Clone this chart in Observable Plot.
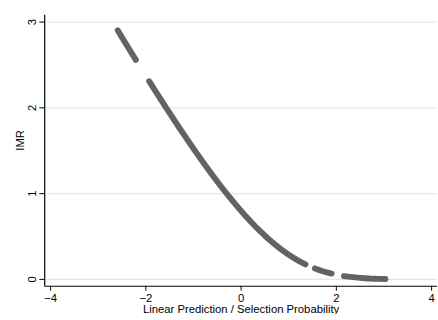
<!DOCTYPE html>
<html>
<head>
<meta charset="utf-8">
<script src="https://cdn.jsdelivr.net/npm/d3@7"></script>
<script src="https://cdn.jsdelivr.net/npm/@observablehq/plot@0.6"></script>
<style>
html, body { margin: 0; padding: 0; background: #fff; overflow: hidden; }
#chart { width: 438px; height: 320px; overflow: hidden; }
</style>
</head>
<body>
<div id="chart"></div>
<script>
// Segments of the scatter (gaps between them are where there are no observations)
const segment = [
  1,1,1,1,1,
  2,2,2,2,2,2,2,2,2,2,2,2,2,2,2,2,2,2,2,2,2,2,2,2,2,2,2,2,2,2,2,2,2,2,2,
  3,3,3,3,3,
  4,4,4,4,4,4,4,4,4,4,4
];
const linearPrediction = [
  -2.59, -2.5, -2.4, -2.3, -2.21,
  -1.93, -1.9, -1.8, -1.7, -1.6, -1.5, -1.4, -1.3, -1.2, -1.1, -1.0, -0.9, -0.8, -0.7, -0.6, -0.5, -0.4, -0.3, -0.2, -0.1,
  0.0, 0.1, 0.2, 0.3, 0.4, 0.5, 0.6, 0.7, 0.8, 0.9, 1.0, 1.1, 1.2, 1.3, 1.35,
  1.55, 1.6, 1.7, 1.8, 1.9,
  2.16, 2.2, 2.3, 2.4, 2.5, 2.6, 2.7, 2.8, 2.9, 3.0, 3.03
];
const imr = [
  2.904, 2.82, 2.73, 2.64, 2.56,
  2.31, 2.285, 2.197, 2.11, 2.024, 1.939, 1.854, 1.77, 1.688, 1.606, 1.525, 1.446, 1.367, 1.29, 1.215, 1.141, 1.069, 0.998, 0.929, 0.863,
  0.798, 0.735, 0.675, 0.617, 0.562, 0.509, 0.459, 0.412, 0.368, 0.326, 0.288, 0.252, 0.219, 0.19, 0.176,
  0.128, 0.117, 0.098, 0.082, 0.068,
  0.039, 0.036, 0.029, 0.023, 0.018, 0.014, 0.01, 0.008, 0.006, 0.004, 0.004
];
const xTicks = [-4, -2, 0, 2, 4];
const yTicks = [0, 1, 2, 3];

const data = linearPrediction.map((x, i) => ({x, y: imr[i], s: segment[i]}));

const chart = Plot.plot({
  width: 446,
  height: 320,
  marginLeft: 45,
  marginRight: 1,
  marginTop: 15,
  marginBottom: 29,
  style: {fontFamily: "'Liberation Sans', Arial, sans-serif", fontSize: "11px", color: "#000", background: "#fff"},
  x: {domain: [-4.124, 4.124]},
  y: {domain: [-0.08, 3.08]},
  marks: [
    Plot.gridY(yTicks, {stroke: "#e6e6e6", strokeOpacity: 1, strokeWidth: 1.2}),
    Plot.line(data, {x: "x", y: "y", z: "s", stroke: "#636363", strokeWidth: 6, strokeLinecap: "round", strokeLinejoin: "round"}),
    Plot.axisX({ticks: xTicks, tickSize: 5, tickPadding: 3, label: null, tickFormat: d => d < 0 ? "\u2212" + Math.abs(d) : String(d), fontSize: 11.5}),
    Plot.axisY({ticks: yTicks, tickSize: 5, tickPadding: 4, tickRotate: -90, label: null, tickFormat: d => String(d), fontSize: 11.5}),
    Plot.ruleX([-4.124], {stroke: "#000", strokeWidth: 1.2}),
    Plot.ruleY([-0.08], {stroke: "#000", strokeWidth: 1.2}),
    Plot.text(["Linear Prediction / Selection Probability"], {frameAnchor: "bottom", lineAnchor: "bottom", dy: 27, text: d => d, fontSize: 11.5}),
    Plot.text(["IMR"], {frameAnchor: "left", dx: -25, rotate: -90, text: d => d, fontSize: 11.5})
  ]
});
document.getElementById("chart").appendChild(chart);
</script>
</body>
</html>
